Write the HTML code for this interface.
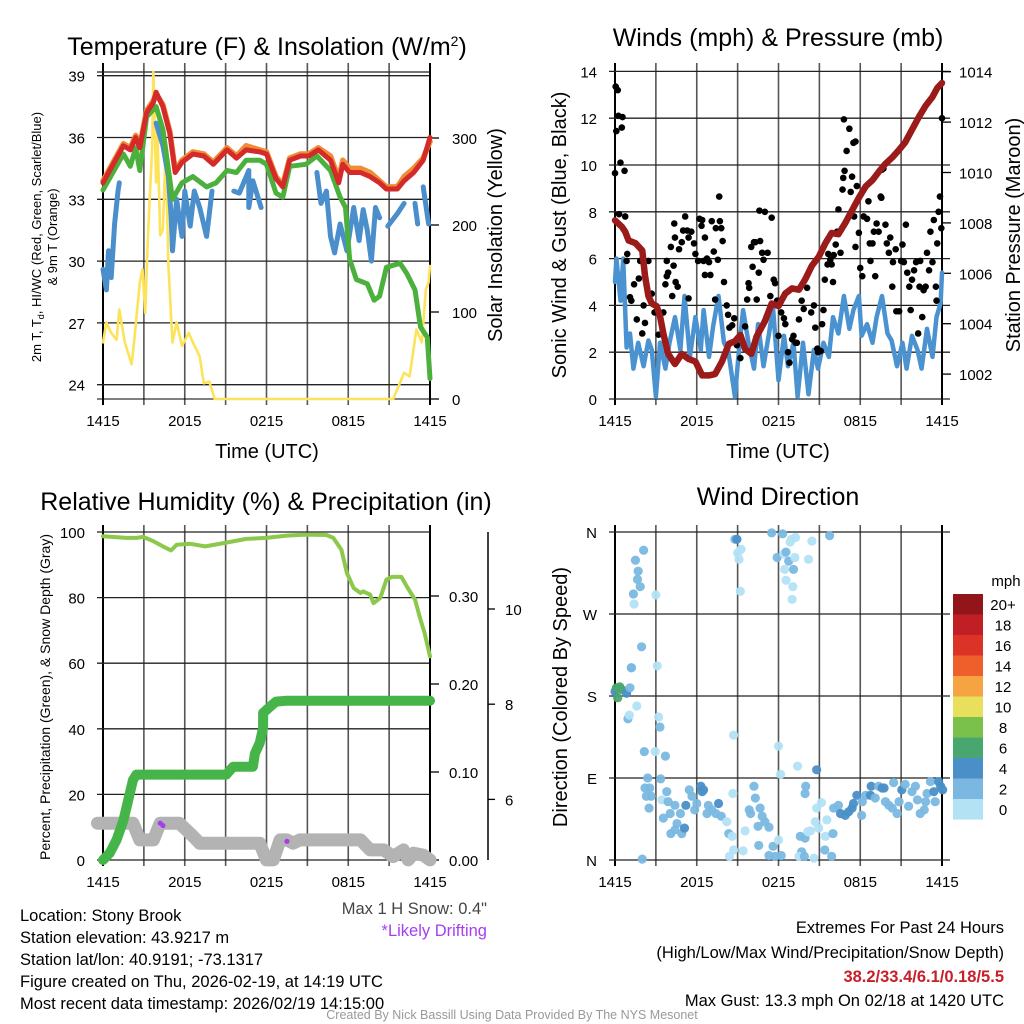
<!DOCTYPE html>
<html><head><meta charset="utf-8"><style>
body{margin:0;background:#fff}
svg{display:block;font-family:"Liberation Sans",sans-serif}
</style></head><body>
<svg id="c" width="1024" height="1024" viewBox="0 0 1024 1024" xmlns="http://www.w3.org/2000/svg">
<rect width="1024" height="1024" fill="#fff"/>
<g id="g"></g>
<text x="267" y="55" font-size="25" text-anchor="middle">Temperature (F) &amp; Insolation (W/m<tspan dy="-9" font-size="14">2</tspan><tspan dy="9">)</tspan></text>
<text x="778" y="46" font-size="25" text-anchor="middle">Winds (mph) &amp; Pressure (mb)</text>
<text x="266" y="510" font-size="25" text-anchor="middle">Relative Humidity (%) &amp; Precipitation (in)</text>
<text x="778" y="505" font-size="25" text-anchor="middle">Wind Direction</text>
<text transform="translate(41,237) rotate(-90)" font-size="13" text-anchor="middle">2m T, T<tspan font-size="9" dy="3">d</tspan><tspan dy="-3">, HI/WC (Red, Green, Scarlet/Blue)</tspan></text>
<text transform="translate(57,237) rotate(-90)" font-size="13" text-anchor="middle">&amp; 9m T (Orange)</text>
<text transform="translate(502,235) rotate(-90)" font-size="20" text-anchor="middle">Solar Insolation (Yellow)</text>
<text transform="translate(566,235) rotate(-90)" font-size="20" text-anchor="middle">Sonic Wind &amp; Gust (Blue, Black)</text>
<text transform="translate(1020,235) rotate(-90)" font-size="20" text-anchor="middle">Station Pressure (Maroon)</text>
<text transform="translate(50,697) rotate(-90)" font-size="14" text-anchor="middle">Percent, Precipitation (Green), &amp; Snow Depth (Gray)</text>
<text transform="translate(567,697) rotate(-90)" font-size="20" text-anchor="middle">Direction (Colored By Speed)</text>
<text x="267" y="458" font-size="20" text-anchor="middle">Time (UTC)</text>
<text x="778" y="458" font-size="20" text-anchor="middle">Time (UTC)</text>
<g font-size="16.5">
<text x="20" y="921">Location: Stony Brook</text>
<text x="20" y="943">Station elevation: 43.9217 m</text>
<text x="20" y="965">Station lat/lon: 40.9191; -73.1317</text>
<text x="20" y="987">Figure created on Thu, 2026-02-19, at 14:19 UTC</text>
<text x="20" y="1009">Most recent data timestamp: 2026/02/19 14:15:00</text>
<text x="487" y="914" text-anchor="end" fill="#444">Max 1 H Snow: 0.4"</text>
<text x="487" y="936" text-anchor="end" fill="#a63ef0">*Likely Drifting</text>
<text x="1004" y="933" text-anchor="end">Extremes For Past 24 Hours</text>
<text x="1004" y="958" text-anchor="end">(High/Low/Max Wind/Precipitation/Snow Depth)</text>
<text x="1004" y="982" text-anchor="end" fill="#c8202a" font-weight="bold">38.2/33.4/6.1/0.18/5.5</text>
<text x="1004" y="1006" text-anchor="end">Max Gust: 13.3 mph On 02/18 at 1420 UTC</text>
<text x="512" y="1019" text-anchor="middle" font-size="12.5" fill="#999">Created By Nick Bassill Using Data Provided By The NYS Mesonet</text>
</g>
</svg>
<script>
// ---- data (hours since 1415 UTC) ----
const xTicks=["1415","2015","0215","0815","1415"];
const tempTicks=[24,27,30,33,36,39];
const solarTicks=[0,100,200,300];
const windTicks=[0,2,4,6,8,10,12,14];
const presTicks=[1002,1004,1006,1008,1010,1012,1014];
const rhTicks=[0,20,40,60,80,100];
const precipTicks=["0.00","0.10","0.20","0.30"];
const snowTicks=[6,8,10];
const dirTicks=["N","E","S","W","N"];
const cbarLabels=["20+","18","16","14","12","10","8","6","4","2","0"];
const cbarColors=["#921519","#bf1f25","#dc3327","#ee5f2c","#f6a442","#e8e05c","#7ac14c","#4aa66f","#4a8fc8","#7ab8e2","#b3e2f5"];

const tT=[0,1.5,2,2.4,2.7,3.2,3.7,3.9,4.4,4.9,5.3,5.8,6.6,7.4,8.1,9.1,9.8,10.5,11.5,12,12.7,13.2,13.7,14.5,15.1,15.8,16.7,17.3,17.6,18.1,18.9,19.6,20.3,20.8,21.6,22.1,22.8,23.5,24];
const redT=[33.8,35.6,35.4,36,35.5,37.2,37.7,38.2,37.5,36.2,34.3,34.8,35.2,35.1,34.7,35.4,35,35.4,35.3,35.2,34,33.6,34.9,35.1,35.1,35.4,34.9,33.8,34.7,34.3,34.3,34.1,33.8,33.5,33.5,33.9,34.3,34.9,36];
const orangeT=[33.9,35.7,35.5,36.1,35.6,37.3,37.8,38.1,37.6,36.3,34.4,34.9,35.3,35.2,34.8,35.5,35.1,35.6,35.4,35.3,34.1,33.7,35,35.2,35.2,35.5,35.1,34,34.9,34.5,34.5,34.3,33.9,33.6,33.6,34.1,34.5,35,35.8];
const tG=[0,1.5,2,2.4,2.7,3.2,3.9,4.4,5.1,5.8,6.6,7.6,8.3,9.1,9.8,10.5,11.5,12,12.7,13.2,13.7,14.9,15.7,16.7,17.4,17.8,18.1,18.6,19.4,19.9,20.3,20.8,21.8,22.3,22.9,23.3,23.8,24];
const greenT=[33.45,35.2,34.6,35.5,34.4,37,37.5,36.4,33,33.8,34.1,33.6,33.8,34.4,34.3,34.9,34.9,34.7,33.3,33.1,34.6,34.7,35.1,34.4,33.1,32.6,30.1,29.1,28.9,28.1,28.3,29.7,29.9,29.4,28.6,26.8,26.3,24.3];
const tB=[0,0.25,0.4,0.6,0.85,1.1,1.2,null,1.9,null,3.5,null,3.9,4.4,4.8,5,5.1,5.4,5.8,6,6.4,6.7,7.1,7.6,8,null,9.6,10,10.7,10.7,11,11.6,null,12.2,null,15.7,16,16.4,16.7,17,17.4,17.9,18.4,18.8,19.1,19.4,19.7,20,20.3,null,20.9,21.6,22.1,null,22.9,23.1,null,23.5,23.9];
const blueT=[29.6,28.6,30.5,29.2,31.8,33.4,33.8,null,33.9,null,33.4,null,36.7,35.6,34.1,32.2,30.5,33,31.2,33.4,31.7,33.4,32.6,31.2,33.4,null,33.4,33.3,34.4,32.6,33.9,32.6,null,33.6,null,34.3,32.8,33.4,31.2,30.4,31.8,30.5,32.6,31,32.5,31.5,30,32.6,32.1,null,31.7,32.3,32.8,null,32.8,31.8,null,33.6,31.8];
const tS=[0,0.25,0.6,1,1.2,1.6,2.1,2.3,2.7,2.9,3.1,3.3,3.6,3.7,3.9,4,4.2,4.4,4.6,4.8,5,5.1,5.4,5.8,6.3,6.6,7.1,7.4,7.8,8.2,21.3,22.1,22.5,23,23.4,23.7,23.9,24];
const solar=[65,88,76,68,103,65,40,68,134,149,99,188,288,376,249,307,188,195,288,153,95,65,88,61,76,65,49,18,20,0,0,30,26,80,65,126,134,153];

const tW=[0,0.1,0.4,0.6,0.85,1.1,1.35,1.7,2.1,2.45,2.7,3,3.3,3.7,4,4.4,4.8,5.1,5.5,5.9,6.3,6.5,6.9,7.2,7.6,8,8.3,8.8,9.1,9.4,9.8,10.2,10.5,10.9,11.3,11.6,12,12.4,12.7,13.1,13.4,13.8,14.2,14.6,14.9,15.3,15.7,16,16.4,16.8,17.2,17.5,17.9,18.1,18.5,18.9,19.2,19.6,20,20.3,20.7,21.1,21.4,21.8,22.2,22.5,22.9,23.3,23.6,23.9,24];
const windSpd=[5,6,4.2,6,2.2,2.8,1.3,2.4,1.4,2.5,2.1,0.1,2.4,1.3,2.4,3.5,2.1,4.4,1.8,3.5,2.1,3.8,1.8,3.1,4.4,2.4,2.1,0.1,2.1,3.8,2.4,1.3,3.2,1.4,2.8,3.9,0.8,2.7,1.4,2.4,0.1,2.4,0.2,2.1,1.3,2.4,1.8,3.5,2.8,4.4,3,3.8,4.4,2.7,3.2,2.4,3.5,4.4,2.8,2.5,1.4,2.4,1.3,2.7,2.1,1.3,3,1.8,3.5,4.1,5.4];
const tGust=[0,0.05,0.2,0.1,0.25,0.55,0.5,0.4,0.7,0.3,0.75,0.85,0.9,1.1,1.2,1.4,1.6,1.75,1.85,2,2.1,2.2,2.45,2.7,2.9,3.2,3.55,3.7,3.8,3.9,3.8,4.2,4.3,4.45,4.6,4.1,4.4,4.35,4.7,4.9,5,5.15,5.3,5.4,5.6,5.8,5.4,5.9,6.2,6.4,6.35,6.6,6.1,6.5,6.9,6.75,6.6,7,7.1,7.25,7.35,7.4,7.55,7.65,7.7,7.8,7.9,8,8.2,8.3,8.4,8.6,8.75,8.95,9.2,9.55,9.7,9.8,9.85,10,10.1,10.2,10.3,10.4,10.55,10.65,10.8,10.9,10.6,11,11.2,11.4,11.5,11.65,11.75,11.9,12,12.2,12.4,12.5,12.7,12.8,13,13.1,13.25,13.35,13.5,13.7,13.85,14.1,14.4,14.6,14.7,14.85,14.9,15.1,15.2,15.3,15.4,15.6,15.65,15.8,15.9,16,16.05,16.2,16.3,16.4,16.55,16.7,16.75,16.85,16.8,17,17.2,17.4,17.3,17.5,17.65,17.75,17.55,17.65,17.9,18,18.15,18.25,18.5,18.6,18.7,18.75,18.9,19,19.1,19.2,19.35,19.5,19.55,19.6,19.7,19.85,19.95,20.1,20.2,20.35,20.4,20.6,20.65,20.85,21,21.1,21.2,21.35,21.45,21.6,21.7,21.8,21.95,22.1,22.25,22.35,22.4,22.55,22.65,22.8,22.9,23.05,23.15,23.3,23.4,23.55,23.6,23.65,23.75,23.85,23.95,24];
const gust=[9.65,13.35,13.2,11.45,12.1,12.05,11.6,10.1,9.75,7.9,7.8,5.9,6.2,4.35,4.2,4.9,3.4,5.15,5.9,2.8,4,3.25,5.9,4.5,3.7,2.75,3.7,4.9,5.25,5.4,5.9,4.4,5.7,5,4.8,6.5,6.9,7.5,6.4,6.7,7.2,7.8,7.2,6.9,7.15,6.65,4.3,6.2,7.7,7.65,7.4,6.9,5.9,5.9,5.85,6,5.3,5.3,7.6,6.3,4.25,7.3,5.95,8.65,7.6,7.3,6.75,5,4,3.6,3.05,3.15,3.45,2.3,1.75,3.1,4.25,4.95,4.75,6.5,5.65,6.7,6.7,4.25,5.4,6.75,6.25,5.95,8.05,8,6.25,4.4,7.75,5.1,4.95,4.2,2.7,3.7,3.45,3.2,2,1.55,2.55,2.7,2.4,2.4,3.4,4.2,3.85,4.75,3.7,4,3.05,2.15,2,2.05,3.2,3.8,5.1,5.75,6.2,5.95,5.75,5,6.15,6.6,7.15,8.1,6.25,8.95,9.45,9.75,11.95,10.6,11.55,9.5,8.85,10.95,11,9.1,7.8,6.5,7.1,5.6,5.25,7.8,7.7,8.45,6.65,5.9,6.65,7.15,5.25,7.5,7.15,8.65,8.6,9.8,9.85,7.45,6.65,6.25,6.9,4.8,5.85,6.4,3.75,3.75,5.9,6.6,5.85,7.45,5.4,4.8,3.8,5.1,5.5,5.85,2.8,4.8,5.9,3.5,4.65,4.8,6.25,5.5,7.15,5.85,7.65,4.8,4.2,6.65,8,8.65,7.3,12];
const tP=[0,0.5,0.75,1,1.5,2,2.2,2.45,2.7,3.05,3.3,3.55,3.9,4.4,4.9,5.4,5.9,6.4,6.9,7.35,7.85,8.35,8.8,9.2,9.55,10,10.4,11,11.5,12,12.5,13,13.5,13.95,14.45,14.95,15.45,15.9,16.4,16.9,17.4,17.9,18.4,18.9,19.4,19.85,20.35,20.85,21.3,21.8,22.3,22.8,23.3,23.65,24];
const pressure=[1008.1,1007.85,1007.65,1007.3,1007.2,1006.9,1005.9,1005.1,1004.8,1004.7,1004.3,1003.6,1002.8,1002.4,1002.8,1002.6,1002.5,1001.95,1001.95,1002,1002.5,1003.2,1003.3,1003.55,1003,1002.8,1003.5,1004.1,1004.8,1004.7,1005.2,1005.4,1005.35,1005.75,1006.3,1006.65,1007.2,1007.6,1007.55,1008,1008.5,1009,1009.45,1009.7,1010.05,1010.35,1010.6,1010.9,1011.2,1011.7,1012.2,1012.65,1013,1013.35,1013.55];

const tRH=[0,1.7,2.45,2.95,3.7,4.4,5,5.4,6.4,7.5,9.1,10.5,12,13.5,14.9,16.4,16.9,17.5,17.9,18.4,18.9,19.1,19.6,19.85,20.35,20.8,21.2,21.9,22.3,22.9,23.3,23.6,24];
const rh=[98.7,98.2,98.2,98.5,97.2,95.6,94.4,96.1,96.4,95.6,96.8,97.9,98.2,98.9,99.2,99.1,98.2,94.6,87.5,82.9,81.4,81.9,80.9,78.3,79.9,85.5,86.3,86.3,83.4,79.4,73.3,69.2,62.1];
const tPr=[0,0.5,1,1.5,1.85,2.2,2.45,2.95,9.05,9.55,11,11.15,11.5,11.75,11.75,12.25,12.7,13.5,24];
const precip=[0,0.008,0.023,0.045,0.068,0.091,0.097,0.097,0.097,0.106,0.106,0.121,0.133,0.15,0.167,0.174,0.18,0.181,0.181];
const tSn=[-0.4,2.2,2.7,3.7,4.2,5.6,6.6,7.1,11.5,12,12.5,13,13.5,13.95,14.45,18.9,19.6,20.6,21.3,22.05,22.4,22.8,23.5,24];
const snow=[5.5,5.5,5.15,5.15,5.5,5.5,5.23,5.08,5.08,4.73,4.73,5.15,5.15,5.08,5.15,5.15,4.94,4.94,4.8,4.94,4.73,4.87,4.83,4.73];
const tDrift=[4.2,4.4,13.5];
const drift=[5.5,5.45,5.12];

const tDir=[0,0.1,0.35,0.5,0.2,0.85,1.1,0.95,1.05,1.6,1.2,1.2,1.95,1.35,1.4,1.65,1.85,1.7,1.5,2.1,3,3.1,3.2,3.3,2.95,2.15,3.7,2.4,3.35,2.2,2.55,2.3,2.65,2.5,3.45,3.8,3.9,3.55,4.05,4.4,4.8,4.55,4.1,4.4,4.9,5.1,5.2,5.45,5.65,5.85,6,6.3,6.5,6.4,6.75,6.85,7.1,7.6,7.4,7.8,8.2,8.35,8.6,8.7,8.65,8.7,9.4,8.4,9.55,9.85,9.95,10.2,10.3,10.5,10.65,10.8,11,11.3,10.55,11.3,11.6,11.75,12.2,12,12,12.15,13.4,13.6,13.7,13.95,13.5,13.9,14.15,14.35,14.6,14,13.95,14.8,14.8,15.15,14.7,14.95,15.55,15.45,16,15.4,15.9,16.05,16.4,16.55,16.9,17.15,17.4,17.5,17.75,18.15,18.1,18.4,18.75,18.8,19.1,19.35,19.6,19.75,19.85,20.1,20.35,20.45,20.7,20.85,21.05,21.3,21.55,21.8,22.05,22.2,22.4,22.7,22.9,23.15,23.4,23.5,23.75,23.9,24.05,22.8,8.8,8.95,9,9.1,9.25,9.2,11.5,12.3,11.9,12.4,12.55,12.45,13.1,12.75,13.2,12.85,12.95,13.25,12.55,13.05,13,14.2,14.45,15.75,2.0];
const dirDeg=[185,189,190,187,178,183,189,155,159,169,211,211,234,292,281,308,300,317,329,340,291,213,157,146,119,119,114,90,89,79,79,70,70,57,66,75,64,46,51,60,51,40,29,33,29,35,60,77,70,55,62,81,77,75,51,60,55,62,51,48,42,29,26,137,73,11,10,4,32,55,51,81,68,37,57,48,42,36,16,5,15,4,5,22,125,94,103,26,9,24,4,4,31,32,2,81,73,99,57,63,42,35,44,26,29,11,4,57,60,51,49,53,57,62,71,64,49,71,71,81,68,81,79,79,64,60,57,85,51,64,77,83,59,75,81,66,51,55,73,86,75,64,86,81,77,64,352,352,337,330,341,295,359,358,332,336,338,319,319,328,332,349,352,354,307,300,286,330,350,356,1];
const dirSpd=[5,7,7,7,7,5,3,3,1,1,3,3,3,3,1,3,3,3,3,3,1,1,1,3,1,3,3,3,3,3,3,3,3,3,1,3,3,3,3,3,3,3,3,3,3,5,5,3,3,3,3,5,5,5,3,3,3,5,3,3,1,3,1,1,1,1,1,1,1,3,3,3,3,3,3,3,3,3,3,3,3,3,3,1,1,1,1,3,3,3,1,3,1,1,1,3,3,5,1,1,1,1,1,1,3,3,3,3,3,5,5,5,5,5,5,3,3,3,5,5,3,3,5,5,3,3,3,3,3,3,5,3,3,3,3,3,3,3,3,3,5,3,5,5,5,3,3,5,1,1,1,1,3,3,3,1,3,1,3,3,1,1,1,1,1,1,1,1,1,3,3,1];

// ---- helpers ----
const NS="http://www.w3.org/2000/svg";
const G=document.getElementById('g');
function mk(tag,attrs,parent){const e=document.createElementNS(NS,tag);for(const k in attrs)e.setAttribute(k,attrs[k]);(parent||G).appendChild(e);return e;}
function pathD(ts,vs,fx,fy){let d="",pen=false;for(let i=0;i<ts.length;i++){if(ts[i]==null||vs[i]==null){pen=false;continue;}d+=(pen?"L":"M")+fx(ts[i]).toFixed(1)+" "+fy(vs[i]).toFixed(1);pen=true;}return d;}

const P1={x0:103,x1:430,yt:63,yb:399};
const P2={x0:615,x1:942,yt:63,yb:399};
const P3={x0:103,x1:430,yt:525,yb:860};
const P4={x0:615,x1:942,yt:525,yb:860};
function sx(P){return h=>P.x0+h/24*(P.x1-P.x0);}
const yTemp=v=>75.7+(39-v)*20.6, ySol=w=>399-w*0.87;
const yWind=v=>399-v*23.4, yPres=p=>71.7+(1014-p)*25.2;
const yRH=r=>860-r*3.28, yPr=p=>860-p*880, ySn=s=>609+(10-s)*47.6;
const yDir=d=>860-d/360*328;

function vgrid(P,name,extTop){
  for(let k=0;k<=8;k++){
    const x=sx(P)(k*3);
    const l=mk('line',{x1:x,x2:x,y1:extTop,y2:P.yb+6,stroke:(k==0||k==8)?'#000':'#555','stroke-width':(k==0||k==8)?2:1.6});
    
    
  }
  xTicks.forEach((s,i)=>{const t=mk('text',{x:sx(P)(i*6),y:P.yb+27,'font-size':15,'text-anchor':'middle'});t.textContent=s;
    
    });
}
function hgrid(P,vals,fy,labels,name,x0,x1){
  vals.forEach((v,i)=>{const y=fy(v);
    const l=mk('line',{x1:x0,x2:x1,y1:y,y2:y,stroke:'#222','stroke-width':1.3});
    
    
    const t=mk('text',{x:P.x0-18,y:y+6,'font-size':15,'text-anchor':'end'});t.textContent=labels?labels[i]:v;
    
    });
}
function rticks(P,vals,fy,labels,name,xa,lx){
  mk('line',{x1:xa,x2:xa,y1:P.yt+8,y2:P.yb,stroke:'#000','stroke-width':1.5});
  vals.forEach((v,i)=>{const y=fy(v);
    mk('line',{x1:xa,x2:xa+9,y1:y,y2:y,stroke:'#000','stroke-width':1.3});
    const t=mk('text',{x:lx,y:y+6,'font-size':15,'text-anchor':'start'});t.textContent=labels?labels[i]:v;
    
    });
}
function line(P,ts,vs,fy,col,w,name){const p=mk('path',{d:pathD(ts,vs,sx(P),fy),fill:'none',stroke:col,'stroke-width':w,'stroke-linejoin':'round','stroke-linecap':'round'});
  
  return p;}

// ---- Panel 1 ----
vgrid(P1,'temp',63);
mk('line',{x1:97,x2:430,y1:72,y2:72,stroke:'#222','stroke-width':1.3});
hgrid(P1,tempTicks,yTemp,null,'temp',97,430);
mk('line',{x1:97,x2:430,y1:399,y2:399,stroke:'#000','stroke-width':1});
rticks(P1,solarTicks,ySol,null,'solar',430,452);
line(P1,tS,solar,ySol,'#fce35a',2.6,'solar-line');
line(P1,tT,orangeT,yTemp,'#f08c35',5.5,'temp-9m-line');
line(P1,tB,blueT,yTemp,'#4a8fcc',5,'dewpoint-line');
line(P1,tG,greenT,yTemp,'#4bb03c',5,'windchill-line');
line(P1,tT,redT,yTemp,'#d42a2a',5,'temp-2m-line');

// ---- Panel 2 ----
vgrid(P2,'wind',63);
hgrid(P2,windTicks,yWind,null,'wind',609,950);
rticks(P2,presTicks,yPres,null,'pressure',942,959);
line(P2,tW,windSpd,yWind,'#4a93d0',4.5,'wind-speed-line');
tGust.forEach((h,i)=>{const c=mk('circle',{cx:sx(P2)(h),cy:yWind(gust[i]),r:3.3,fill:'#000'});
  
  });
line(P2,tP,pressure,yPres,'#9b1a1a',6.5,'pressure-line');

// ---- Panel 3 ----
vgrid(P3,'rh',525);
hgrid(P3,rhTicks,yRH,null,'rh',97,430);
rticks(P3,[0,0.1,0.2,0.3],yPr,precipTicks,'precip',430,449);
mk('line',{x1:488,x2:488,y1:532,y2:860,stroke:'#000','stroke-width':1.5});
snowTicks.forEach(v=>{const y=ySn(v);mk('line',{x1:488,x2:495,y1:y,y2:y,stroke:'#000','stroke-width':1.3});
  const t=mk('text',{x:505,y:y+6,'font-size':15});t.textContent=v;
  
  });
line(P3,tSn,snow,ySn,'#b3b3b3',13,'snow-depth-line');
line(P3,tPr,precip,yPr,'#46b549',10,'precip-line');
line(P3,tRH,rh,yRH,'#8cc84b',4,'rh-line');
tDrift.forEach((h,i)=>{const c=mk('circle',{cx:sx(P3)(h),cy:ySn(drift[i]),r:2.6,fill:'#a63ef0'});
  
  });

// ---- Panel 4 ----
vgrid(P4,'dir',525);
hgrid(P4,[0,90,180,270,360],yDir,dirTicks,'dir',609,950);
function spdColor(s){const idx=Math.min(10,Math.floor(s/2));return cbarColors[10-idx];}
tDir.forEach((h,i)=>{const c=mk('circle',{cx:sx(P4)(h),cy:yDir(dirDeg[i]),r:4.6,fill:spdColor(dirSpd[i]),'fill-opacity':0.95});
  
  });
cbarColors.forEach((c,i)=>{const r=mk('rect',{x:953,y:594+i*20.5,width:30,height:20.6,fill:c});
  
  
  const t=mk('text',{x:1003,y:594+i*20.5+16,'font-size':15,'text-anchor':'middle'});t.textContent=cbarLabels[i];
  
  });
const mt=mk('text',{x:1006,y:586,'font-size':15,'text-anchor':'middle'});mt.textContent='mph';


</script>
</body></html>
